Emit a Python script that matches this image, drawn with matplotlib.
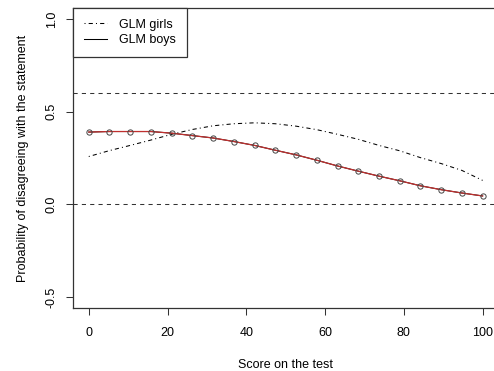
import numpy as np
import matplotlib
matplotlib.use("Agg")
import matplotlib.pyplot as plt

plt.rcParams['font.family'] = ['Liberation Sans', 'DejaVu Sans']
plt.rcParams['font.size'] = 9

# scores at which the models were evaluated (20 points from 0 to 100)
score = np.linspace(0, 100, 20)

# GLM fitted probabilities
girls = [0.258, 0.290, 0.318, 0.347, 0.378, 0.404, 0.424, 0.435, 0.440, 0.435,
         0.422, 0.403, 0.378, 0.351, 0.318, 0.289, 0.252, 0.220, 0.183, 0.129]
boys = [0.390, 0.393, 0.393, 0.393, 0.384, 0.371, 0.358, 0.339, 0.318, 0.292,
        0.267, 0.238, 0.207, 0.179, 0.152, 0.127, 0.100, 0.079, 0.061, 0.045]

ref_lines = [0.0, 0.6]
yticks = [-0.5, 0.0, 0.5, 1.0]
xticks = [0, 20, 40, 60, 80, 100]

fig = plt.figure(figsize=(4.94, 3.71), dpi=100)
# the original picture is cut off on the right, so the plot box runs past the edge
ax = fig.add_axes([73/494, 1 - 308/371, 449/494, 300/371])

for h in ref_lines:
    ax.axhline(h, color='#333333', lw=0.75, linestyle=(0, (4, 4)))

ax.plot(score, girls, color='black', lw=0.75, linestyle=(0, (1, 3, 4, 3)),
        label='GLM girls')
ax.plot(score, boys, color='black', lw=0.75, label='GLM boys')
ax.plot(score, boys, color='#c0302f', lw=0.9)
ax.plot(score, boys, linestyle='none', marker='o', ms=3.8, mfc='none',
        mec='#444444', mew=0.7)

ax.set_xlim(-4, 110)
ax.set_ylim(-0.56, 1.06)
ax.set_xticks(xticks)
ax.set_yticks(yticks)
ax.set_yticklabels(['-0.5', '0.0', '0.5', '1.0'], rotation=90, va='center')
ax.tick_params(length=5, width=0.75, color='#333333', pad=6)
ax.tick_params(axis='x', pad=9)

for s in ax.spines.values():
    s.set_linewidth(0.9)
    s.set_color('#333333')
ax.spines['right'].set_visible(False)

ax.set_xlabel('Score on the test', labelpad=15)
ax.xaxis.set_label_coords((285 - 73) / 449, -0.17)
ax.set_ylabel('Probability of disagreeing with the statement', labelpad=12)

leg = ax.legend(loc='upper left', borderaxespad=0, fancybox=False,
                framealpha=1, edgecolor='#333333', handlelength=1.85,
                handletextpad=1.0, borderpad=0.85, labelspacing=0.3)
leg.get_frame().set_linewidth(0.9)

fig.savefig('out.png', dpi=100)
